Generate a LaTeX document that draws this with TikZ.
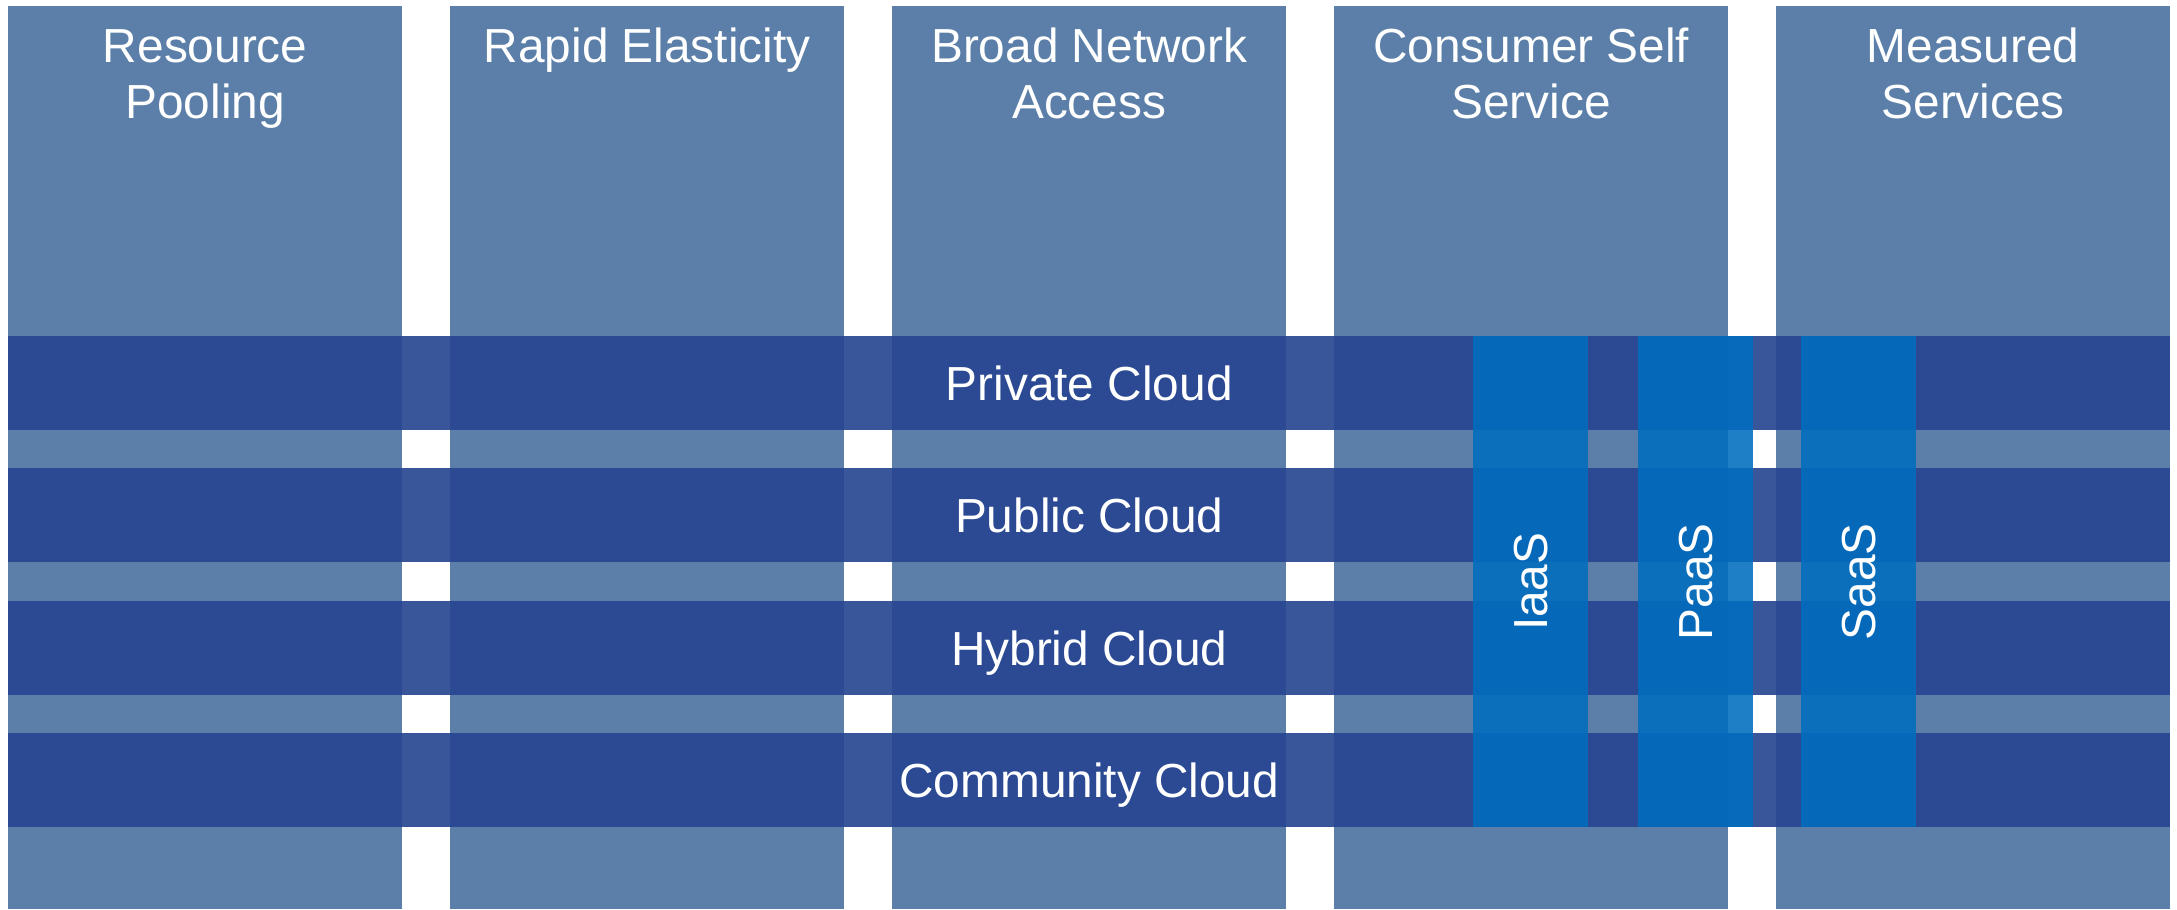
\documentclass[tikz,border=0pt]{standalone}
\usepackage{fontspec}
\setmainfont{Liberation Sans}
\definecolor{colblue}{RGB}{91,127,168}
\definecolor{rowblue}{RGB}{39,69,145}
\definecolor{barblue}{RGB}{0,109,190}
\tikzset{
  colbox/.style={rectangle, fill=colblue, inner sep=0pt, minimum width=394bp, minimum height=903.5bp, anchor=north west},
  rowbox/.style={rectangle, fill=rowblue, fill opacity=0.91, inner sep=0pt, minimum width=2162bp, minimum height=94bp, anchor=north west},
  barbox/.style={rectangle, fill=barblue, fill opacity=0.88, inner sep=0pt, minimum width=115bp, minimum height=491bp, anchor=north west},
  lbl/.style={text=white, inner sep=0pt, font=\fontsize{47.8bp}{56bp}\selectfont},
  title/.style={lbl, align=center, anchor=north},
  rowlabel/.style={lbl, anchor=base},
  barlabel/.style={lbl, anchor=base, rotate=90},
}
\begin{document}
\begin{tikzpicture}[x=1bp,y=-1bp]
\useasboundingbox (0,0) rectangle (2177,909);
% columns
\node[colbox] (c1) at (8,5.5) {};
\node[colbox] (c2) at (450,5.5) {};
\node[colbox] (c3) at (892,5.5) {};
\node[colbox] (c4) at (1334,5.5) {};
\node[colbox] (c5) at (1776,5.5) {};
\node[title] at ([yshift=-17.3bp]c1.north) {\strut Resource\\\strut Pooling};
\node[title] at ([yshift=-17.3bp]c2.north) {\strut Rapid Elasticity};
\node[title] at ([yshift=-17.3bp]c3.north) {\strut Broad Network\\\strut Access};
\node[title] at ([yshift=-17.3bp]c4.north) {\strut Consumer Self\\\strut Service};
\node[title] at ([yshift=-17.3bp]c5.north) {\strut Measured\\\strut Services};
% rows
\node[rowbox] (r1) at (8,336) {};
\node[rowbox] (r2) at (8,468) {};
\node[rowbox] (r3) at (8,601) {};
\node[rowbox] (r4) at (8,733) {};
% service bars
\node[barbox] (b1) at (1473,336) {};
\node[barbox] (b2) at (1638,336) {};
\node[barbox] (b3) at (1801,336) {};
% row labels
\node[rowlabel] at ([yshift=-17.5bp]r1.center) {Private Cloud};
\node[rowlabel] at ([yshift=-17.5bp]r2.center) {Public Cloud};
\node[rowlabel] at ([yshift=-17.5bp]r3.center) {Hybrid Cloud};
\node[rowlabel] at ([yshift=-17.5bp]r4.center) {Community Cloud};
% bar labels
\node[barlabel] at ([xshift=17bp]b1.center) {IaaS};
\node[barlabel] at ([xshift=17bp]b2.center) {PaaS};
\node[barlabel] at ([xshift=17bp]b3.center) {SaaS};
\end{tikzpicture}
\end{document}
